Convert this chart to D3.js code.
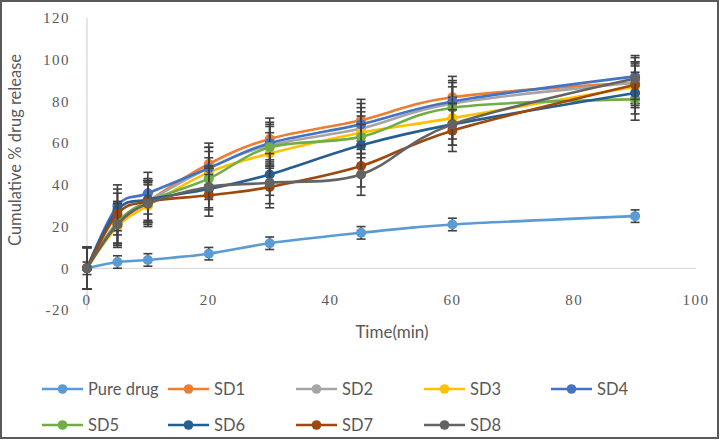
<!DOCTYPE html>
<html><head><meta charset="utf-8">
<script src="https://cdn.jsdelivr.net/npm/d3@7"></script>
<style>
html,body{margin:0;padding:0;background:#fff;}
svg{display:block;}
</style></head>
<body>
<svg id="chart" width="723" height="440"></svg>
<script>
const times = [0, 5, 10, 20, 30, 45, 60, 90];
const seriesNames = ["Pure drug","SD1","SD2","SD3","SD4","SD5","SD6","SD7","SD8"];
const seriesColors = ["#5B9BD5","#ED7D31","#A5A5A5","#FFC000","#4472C4","#70AD47","#255E91","#9E480E","#636363"];
const pureDrug = [0, 3, 4, 7, 12, 17, 21, 25];
const sd1 = [0, 21, 32, 50, 62, 71, 82, 89];
const sd2 = [0, 22, 32, 48, 59, 67, 79, 89];
const sd3 = [0, 20, 30, 46, 55, 65, 72, 87];
const sd4 = [0, 30, 36, 48, 60, 69, 80, 92];
const sd5 = [0, 22, 32, 43, 58, 63, 77, 81];
const sd6 = [0, 28, 33, 38, 45, 59, 69, 84];
const sd7 = [0, 26, 32, 35, 39, 49, 66, 88];
const sd8 = [0, 21, 31, 39, 41, 45, 69, 91];
const errorSizes = [3, 10, 10, 10, 10, 10, 10, 10, 10];
const yTicks = [-20, 0, 20, 40, 60, 80, 100, 120];
const xTicks = [0, 20, 40, 60, 80, 100];

const allValues = [pureDrug, sd1, sd2, sd3, sd4, sd5, sd6, sd7, sd8];

const svg = d3.select("#chart");
const x = d3.scaleLinear().domain([0, 100]).range([87, 696]);
const y = d3.scaleLinear().domain([-20, 120]).range([310, 18]);

// frame
svg.append("rect").attr("x", 1).attr("y", 1).attr("width", 717).attr("height", 437)
  .attr("fill", "none").attr("stroke", "#5a5a5a").attr("stroke-width", 2);

// vertical axis line
svg.append("line").attr("x1", x(0)).attr("x2", x(0)).attr("y1", y(120)).attr("y2", y(-20))
  .attr("stroke", "#d9d9d9").attr("stroke-width", 1.3);
// horizontal axis at zero
svg.append("line").attr("x1", x(0)).attr("x2", x(100)).attr("y1", y(0)).attr("y2", y(0))
  .attr("stroke", "#d9d9d9").attr("stroke-width", 1.3);

const tickFont = "'Liberation Serif', serif";
svg.append("g").selectAll("text").data(yTicks).join("text")
  .attr("x", 70).attr("y", d => y(d)).attr("dy", "0.35em")
  .attr("text-anchor", "end").attr("font-family", tickFont).attr("font-size", 15)
  .attr("letter-spacing", 1.5)
  .attr("fill", "#595959").text(d => d);
svg.append("g").selectAll("text").data(xTicks).join("text")
  .attr("x", d => x(d)).attr("y", 300).attr("dy", "0.35em")
  .attr("text-anchor", "middle").attr("font-family", tickFont).attr("font-size", 15)
  .attr("letter-spacing", 1.5)
  .attr("fill", "#595959").text(d => d);

const labelFont = "Lato, 'Open Sans', sans-serif";
svg.append("text").attr("transform", "translate(21,150) rotate(-90)")
  .attr("text-anchor", "middle").attr("font-family", labelFont).attr("font-size", 16.5)
  .attr("fill", "#595959").text("Cumulative % drug release");
svg.append("text").attr("x", 392).attr("y", 332).attr("dy", "0.35em")
  .attr("text-anchor", "middle").attr("font-family", labelFont).attr("font-size", 17)
  .attr("fill", "#595959").text("Time(min)");

const line = d3.line().x(d => x(d[0])).y(d => y(d[1])).curve(d3.curveCardinal.tension(0));

allValues.forEach((vals, i) => {
  const pts = times.map((t, j) => [t, vals[j]]);
  const g = svg.append("g");
  g.append("path").datum(pts).attr("d", line).attr("fill", "none")
    .attr("stroke", seriesColors[i]).attr("stroke-width", 2.6);
  const e = errorSizes[i];
  const eb = g.append("g").attr("stroke", "#404040").attr("stroke-width", 1.6);
  pts.forEach(p => {
    eb.append("line").attr("x1", x(p[0])).attr("x2", x(p[0])).attr("y1", y(p[1] - e)).attr("y2", y(p[1] + e));
    eb.append("line").attr("x1", x(p[0]) - 4.5).attr("x2", x(p[0]) + 4.5).attr("y1", y(p[1] - e)).attr("y2", y(p[1] - e));
    eb.append("line").attr("x1", x(p[0]) - 4.5).attr("x2", x(p[0]) + 4.5).attr("y1", y(p[1] + e)).attr("y2", y(p[1] + e));
  });
  g.selectAll("circle").data(pts).join("circle")
    .attr("cx", d => x(d[0])).attr("cy", d => y(d[1])).attr("r", 5)
    .attr("fill", seriesColors[i]);
});

// legend
const legendCols = [42, 168, 296, 424, 551];
const legendRows = [389, 425];
seriesNames.forEach((name, i) => {
  const row = i < 5 ? 0 : 1;
  const col = i < 5 ? i : i - 5;
  const lx = legendCols[col], ly = legendRows[row];
  const g = svg.append("g");
  g.append("line").attr("x1", lx).attr("x2", lx + 41).attr("y1", ly).attr("y2", ly)
    .attr("stroke", seriesColors[i]).attr("stroke-width", 2.6);
  g.append("circle").attr("cx", lx + 20.5).attr("cy", ly).attr("r", 4.8).attr("fill", seriesColors[i]);
  g.append("text").attr("x", lx + 46).attr("y", ly).attr("dy", "0.35em")
    .attr("font-family", labelFont).attr("font-size", 16.5).attr("fill", "#595959").text(name);
});
</script>
</body></html>
